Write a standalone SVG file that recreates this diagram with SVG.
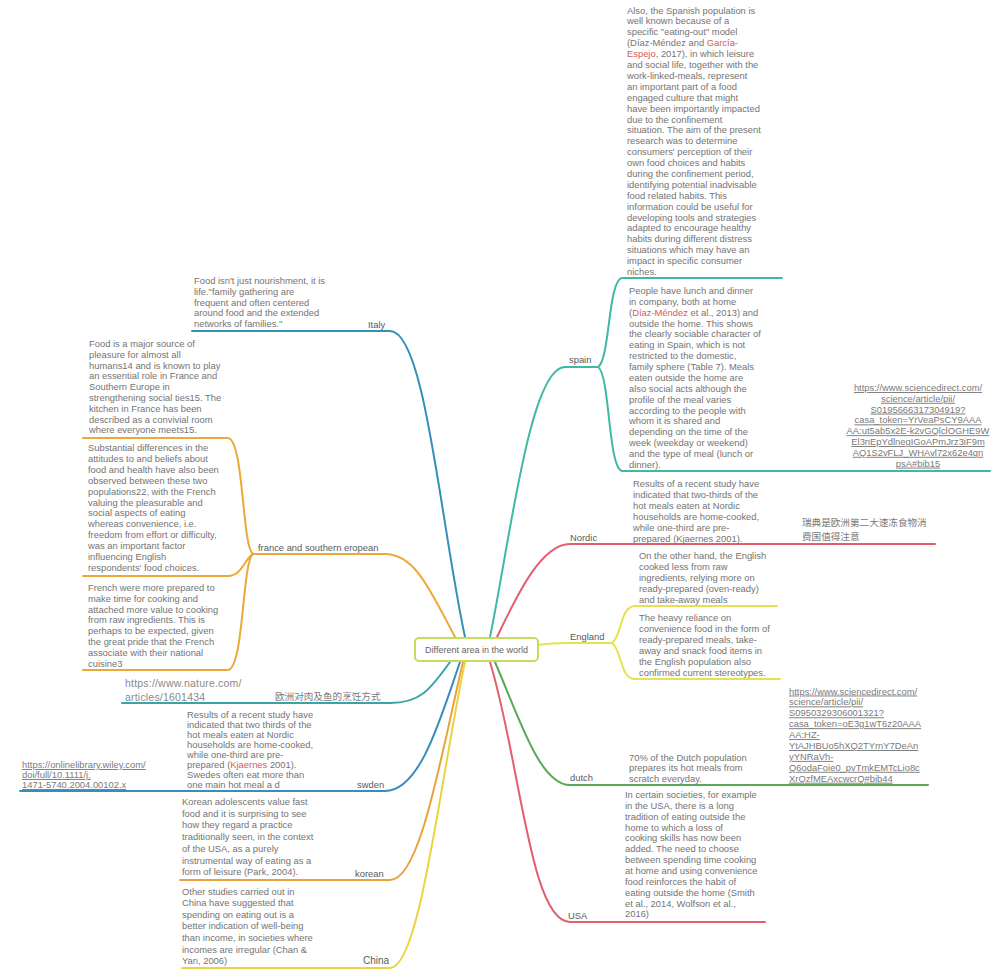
<svg xmlns="http://www.w3.org/2000/svg" width="998" height="969" viewBox="0 0 998 969">
<style>
.t{font-family:"Liberation Sans",Arial,sans-serif;font-size:9.4px;fill:#747474}
.l{font-family:"Liberation Sans",Arial,sans-serif;font-size:9.4px;fill:#5a5a5a}
.u{font-family:"Liberation Sans",Arial,sans-serif;font-size:9.4px;fill:#7a7a7a;text-decoration:underline}
.n{font-family:"Liberation Sans",Arial,sans-serif;font-size:10.5px;fill:#8a8a8a;letter-spacing:0.2px}
.c{font-family:"Noto Sans CJK SC",sans-serif;font-size:9.6px;fill:#7a7a7a}
.r{fill:#d45a5a}
.k path{fill:none;stroke-width:2;stroke-linecap:round}
</style>
<rect width="998" height="969" fill="#ffffff"/>
<g id="connectors" class="k">
<path d="M465,637 C440,520 425,331 390,331 L192,331" stroke="#3590b8"/>
<path d="M455,637 C430,590 415,554 385,554 L253,554" stroke="#eca838"/>
<path d="M253,554 C242,548 244,440 228,438 L83,438" stroke="#eca838"/>
<path d="M253,554 C245,558 242,576 228,576 L83,576" stroke="#eca838"/>
<path d="M253,554 C242,562 244,668 228,670 L83,670" stroke="#eca838"/>
<path d="M450,662 C430,690 420,703 390,703 L122,703" stroke="#3aa3a8"/>
<path d="M460,662 C440,720 420,791 385,791 L20,791" stroke="#3a8cbc"/>
<path d="M463,662 C440,760 420,880 390,880 L180,880" stroke="#e9a33a"/>
<path d="M465,662 C440,780 420,968 390,968 L182,968" stroke="#e9d440"/>
<path d="M490,637 C510,540 530,367 565,367 L598,367" stroke="#3fb9a6"/>
<path d="M598,367 C610,360 608,280 622,278 L782,278" stroke="#3fb9a6"/>
<path d="M598,367 C610,374 608,468 622,471 L990,471" stroke="#3fb9a6"/>
<path d="M497,637 C515,600 540,544 570,544 L935,544" stroke="#e2606e"/>
<path d="M538,645 C550,643 560,643 570,643 L612,643" stroke="#e6e24e"/>
<path d="M612,643 C622,636 620,606 635,606 L777,606" stroke="#e6e24e"/>
<path d="M612,643 C622,650 620,679 635,679 L780,679" stroke="#e6e24e"/>
<path d="M495,662 C520,720 540,785 570,785 L928,785" stroke="#58a858"/>
<path d="M490,662 C520,760 530,922 570,922 L765,922" stroke="#e2606e"/>
</g>
<g id="center">
<rect x="415" y="638" width="123" height="23" rx="4" fill="#ffffff" stroke="#c5dc5e" stroke-width="2"/>
<text x="476.5" y="653" text-anchor="middle" class="t" style="font-size:9px;fill:#666">Different area in the world</text>
</g>
<g id="italy">
<text class="l" x="368" y="328">Italy</text>
<text class="t" x="194" y="284"><tspan x="194">Food isn't just nourishment, it is</tspan><tspan x="194" dy="10.8">life."family gathering are</tspan><tspan x="194" dy="10.8">frequent and often centered</tspan><tspan x="194" dy="10.8">around food and the extended</tspan><tspan x="194" dy="10.8">networks of families."</tspan></text>
</g>
<g id="france">
<text class="l" x="258" y="551">france and southern eropean</text>
<text class="t" x="89" y="347"><tspan x="89">Food is a major source of</tspan><tspan x="89" dy="10.8">pleasure for almost all</tspan><tspan x="89" dy="10.8">humans14 and is known to play</tspan><tspan x="89" dy="10.8">an essential role in France and</tspan><tspan x="89" dy="10.8">Southern Europe in</tspan><tspan x="89" dy="10.8">strengthening social ties15. The</tspan><tspan x="89" dy="10.8">kitchen in France has been</tspan><tspan x="89" dy="10.8">described as a convivial room</tspan><tspan x="89" dy="10.8">where everyone meets15.</tspan></text>
<text class="t" x="88" y="451"><tspan x="88">Substantial differences in the</tspan><tspan x="88" dy="10.9">attitudes to and beliefs about</tspan><tspan x="88" dy="10.9">food and health have also been</tspan><tspan x="88" dy="10.9">observed between these two</tspan><tspan x="88" dy="10.9">populations22, with the French</tspan><tspan x="88" dy="10.9">valuing the pleasurable and</tspan><tspan x="88" dy="10.9">social aspects of eating</tspan><tspan x="88" dy="10.9">whereas convenience, i.e.</tspan><tspan x="88" dy="10.9">freedom from effort or difficulty,</tspan><tspan x="88" dy="10.9">was an important factor</tspan><tspan x="88" dy="10.9">influencing English</tspan><tspan x="88" dy="10.9">respondents' food choices.</tspan></text>
<text class="t" x="88" y="591"><tspan x="88">French were more prepared to</tspan><tspan x="88" dy="10.8">make time for cooking and</tspan><tspan x="88" dy="10.8">attached more value to cooking</tspan><tspan x="88" dy="10.8">from raw ingredients. This is</tspan><tspan x="88" dy="10.8">perhaps to be expected, given</tspan><tspan x="88" dy="10.8">the great pride that the French</tspan><tspan x="88" dy="10.8">associate with their national</tspan><tspan x="88" dy="10.8">cuisine3</tspan></text>
</g>
<g id="europe-meat-fish">
<text class="c" x="275" y="700">欧洲对肉及鱼的烹饪方式</text>
<text class="n" x="125" y="687"><tspan x="125">https://www.nature.com/</tspan><tspan x="125" dy="14">articles/1601434</tspan></text>
</g>
<g id="sweden">
<text class="l" x="357" y="788">swden</text>
<text class="t" x="187" y="718"><tspan x="187">Results of a recent study have</tspan><tspan x="187" dy="10">indicated that two thirds of the</tspan><tspan x="187" dy="10">hot meals eaten at Nordic</tspan><tspan x="187" dy="10">households are home-cooked,</tspan><tspan x="187" dy="10">while one-third are pre-</tspan><tspan x="187" dy="10">prepared (<tspan class="r">Kjaernes</tspan> 2001).</tspan><tspan x="187" dy="10">Swedes often eat more than</tspan><tspan x="187" dy="10">one main hot meal a d</tspan></text>
<text class="u" x="22" y="768"><tspan x="22">https://onlinelibrary.wiley.com/</tspan><tspan x="22" dy="10">doi/full/10.1111/j.</tspan><tspan x="22" dy="10">1471-5740.2004.00102.x</tspan></text>
</g>
<g id="korean">
<text class="l" x="355" y="877">korean</text>
<text class="t" x="182" y="805"><tspan x="182">Korean adolescents value fast</tspan><tspan x="182" dy="11.7">food and it is surprising to see</tspan><tspan x="182" dy="11.7">how they regard a practice</tspan><tspan x="182" dy="11.7">traditionally seen, in the context</tspan><tspan x="182" dy="11.7">of the USA, as a purely</tspan><tspan x="182" dy="11.7">instrumental way of eating as a</tspan><tspan x="182" dy="11.7">form of leisure (Park, 2004).</tspan></text>
</g>
<g id="china">
<text class="l" x="363" y="964" style="font-size:10px">China</text>
<text class="t" x="182" y="894.5"><tspan x="182">Other studies carried out in</tspan><tspan x="182" dy="11.6">China have suggested that</tspan><tspan x="182" dy="11.6">spending on eating out is a</tspan><tspan x="182" dy="11.6">better indication of well-being</tspan><tspan x="182" dy="11.6">than income, in societies where</tspan><tspan x="182" dy="11.6">incomes are irregular (Chan &amp;</tspan><tspan x="182" dy="11.6">Yan, 2006)</tspan></text>
</g>
<g id="spain">
<text class="l" x="569" y="363">spain</text>
<text class="t" x="627" y="13.5"><tspan x="627">Also, the Spanish population is</tspan><tspan x="627" dy="10.9">well known because of a</tspan><tspan x="627" dy="10.9">specific "eating-out" model</tspan><tspan x="627" dy="10.9">(Díaz-Méndez and <tspan class="r">García-</tspan></tspan><tspan x="627" dy="10.9"><tspan class="r">Espejo</tspan>, 2017), in which leisure</tspan><tspan x="627" dy="10.9">and social life, together with the</tspan><tspan x="627" dy="10.9">work-linked-meals, represent</tspan><tspan x="627" dy="10.9">an important part of a food</tspan><tspan x="627" dy="10.9">engaged culture that might</tspan><tspan x="627" dy="10.9">have been importantly impacted</tspan><tspan x="627" dy="10.9">due to the confinement</tspan><tspan x="627" dy="10.9">situation. The aim of the present</tspan><tspan x="627" dy="10.9">research was to determine</tspan><tspan x="627" dy="10.9">consumers' perception of their</tspan><tspan x="627" dy="10.9">own food choices and habits</tspan><tspan x="627" dy="10.9">during the confinement period,</tspan><tspan x="627" dy="10.9">identifying potential inadvisable</tspan><tspan x="627" dy="10.9">food related habits. This</tspan><tspan x="627" dy="10.9">information could be useful for</tspan><tspan x="627" dy="10.9">developing tools and strategies</tspan><tspan x="627" dy="10.9">adapted to encourage healthy</tspan><tspan x="627" dy="10.9">habits during different distress</tspan><tspan x="627" dy="10.9">situations which may have an</tspan><tspan x="627" dy="10.9">impact in specific consumer</tspan><tspan x="627" dy="10.9">niches.</tspan></text>
<text class="t" x="629" y="294"><tspan x="629">People have lunch and dinner</tspan><tspan x="629" dy="10.87">in company, both at home</tspan><tspan x="629" dy="10.87">(<tspan class="r">Díaz-Méndez</tspan> et al., 2013) and</tspan><tspan x="629" dy="10.87">outside the home. This shows</tspan><tspan x="629" dy="10.87">the clearly sociable character of</tspan><tspan x="629" dy="10.87">eating in Spain, which is not</tspan><tspan x="629" dy="10.87">restricted to the domestic,</tspan><tspan x="629" dy="10.87">family sphere (Table 7). Meals</tspan><tspan x="629" dy="10.87">eaten outside the home are</tspan><tspan x="629" dy="10.87">also social acts although the</tspan><tspan x="629" dy="10.87">profile of the meal varies</tspan><tspan x="629" dy="10.87">according to the people with</tspan><tspan x="629" dy="10.87">whom it is shared and</tspan><tspan x="629" dy="10.87">depending on the time of the</tspan><tspan x="629" dy="10.87">week (weekday or weekend)</tspan><tspan x="629" dy="10.87">and the type of meal (lunch or</tspan><tspan x="629" dy="10.87">dinner).</tspan></text>
<text class="u" x="918" y="391" text-anchor="middle"><tspan x="918">https://www.sciencedirect.com/</tspan><tspan x="918" dy="10.8">science/article/pii/</tspan><tspan x="918" dy="10.8">S0195666317304919?</tspan><tspan x="918" dy="10.8">casa_token=YrVeaPsCY9AAA</tspan><tspan x="918" dy="10.8">AA:ut5ab5x2E-k2vGQlclOGHE9W</tspan><tspan x="918" dy="10.8">El3nEpYdlnegIGoAPmJrz3iF9m</tspan><tspan x="918" dy="10.8">AQ1S2vFLJ_WHAvl72x62e4qn</tspan><tspan x="918" dy="10.8">psA#bib15</tspan></text>
</g>
<g id="nordic">
<text class="l" x="570" y="541">Nordic</text>
<text class="t" x="633" y="486.5"><tspan x="633">Results of a recent study have</tspan><tspan x="633" dy="11">indicated that two-thirds of the</tspan><tspan x="633" dy="11">hot meals eaten at Nordic</tspan><tspan x="633" dy="11">households are home-cooked,</tspan><tspan x="633" dy="11">while one-third are pre-</tspan><tspan x="633" dy="11">prepared (Kjaernes 2001).</tspan></text>
<text class="c" x="802" y="526"><tspan x="802">瑞典是欧洲第二大速冻食物消</tspan><tspan x="802" dy="14">费国值得注意</tspan></text>
</g>
<g id="england">
<text class="l" x="570" y="640">England</text>
<text class="t" x="639" y="558.5"><tspan x="639">On the other hand, the English</tspan><tspan x="639" dy="11">cooked less from raw</tspan><tspan x="639" dy="11">ingredients, relying more on</tspan><tspan x="639" dy="11">ready-prepared (oven-ready)</tspan><tspan x="639" dy="11">and take-away meals</tspan></text>
<text class="t" x="639" y="620.5"><tspan x="639">The heavy reliance on</tspan><tspan x="639" dy="11">convenience food in the form of</tspan><tspan x="639" dy="11">ready-prepared meals, take-</tspan><tspan x="639" dy="11">away and snack food items in</tspan><tspan x="639" dy="11">the English population also</tspan><tspan x="639" dy="11">confirmed current stereotypes.</tspan></text>
</g>
<g id="dutch">
<text class="l" x="570" y="781">dutch</text>
<text class="t" x="629" y="760.5"><tspan x="629">70% of the Dutch population</tspan><tspan x="629" dy="10.6">prepares its hot meals from</tspan><tspan x="629" dy="10.6">scratch everyday.</tspan></text>
<text class="u" x="789" y="694.5"><tspan x="789">https://www.sciencedirect.com/</tspan><tspan x="789" dy="10.9">science/article/pii/</tspan><tspan x="789" dy="10.9">S0950329306001321?</tspan><tspan x="789" dy="10.9">casa_token=oE3g1wT6z20AAA</tspan><tspan x="789" dy="10.9">AA:HZ-</tspan><tspan x="789" dy="10.9">YtAJHBUo5hXQ2TYrnY7DeAn</tspan><tspan x="789" dy="10.9">yYNRaVh-</tspan><tspan x="789" dy="10.9">Q6odaFoie0_pvTmkEMTcLio8c</tspan><tspan x="789" dy="10.9">XrQzfMEAxcwcrQ#bib44</tspan></text>
</g>
<g id="usa">
<text class="l" x="568" y="919">USA</text>
<text class="t" x="625" y="798"><tspan x="625">In certain societies, for example</tspan><tspan x="625" dy="10.85">in the USA, there is a long</tspan><tspan x="625" dy="10.85">tradition of eating outside the</tspan><tspan x="625" dy="10.85">home to which a loss of</tspan><tspan x="625" dy="10.85">cooking skills has now been</tspan><tspan x="625" dy="10.85">added. The need to choose</tspan><tspan x="625" dy="10.85">between spending time cooking</tspan><tspan x="625" dy="10.85">at home and using convenience</tspan><tspan x="625" dy="10.85">food reinforces the habit of</tspan><tspan x="625" dy="10.85">eating outside the home (Smith</tspan><tspan x="625" dy="10.85">et al., 2014, Wolfson et al.,</tspan><tspan x="625" dy="10.85">2016)</tspan></text>
</g>
</svg>
